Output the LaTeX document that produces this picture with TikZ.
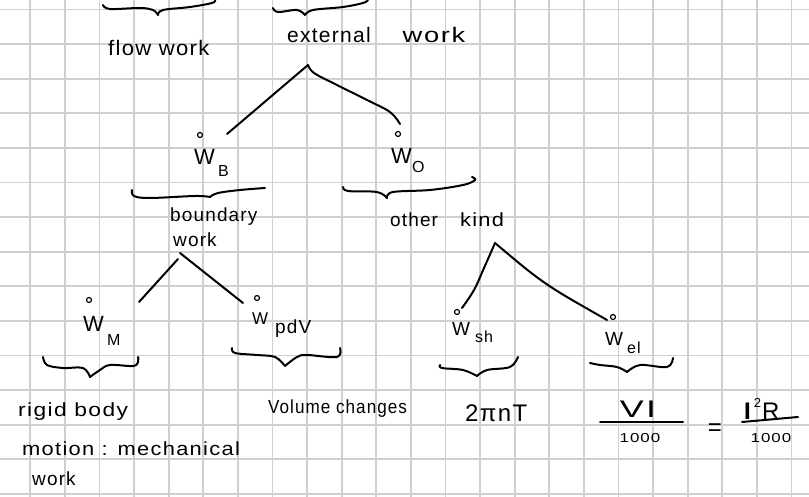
\documentclass[tikz,border=0pt]{standalone}
\usepackage{fontspec}
\setmainfont{Liberation Sans}[LetterSpace=6]
\definecolor{gridgray}{HTML}{D0D0D0}
% font sizes for the hand-lettered notes
\newcommand\fsText{\fontsize{21}{24}\selectfont}
\newcommand\fsMid{\fontsize{19}{22}\selectfont}
\newcommand\fsW{\fontsize{22}{24}\selectfont}
\newcommand\fsSub{\fontsize{16}{18}\selectfont}
\newcommand\fsBig{\fontsize{24}{28}\selectfont}
\newcommand\fsSmall{\fontsize{13}{15}\selectfont}
\newcommand\widen[2]{\scalebox{#1}[1]{#2}}
\begin{document}
\begin{tikzpicture}[x=1pt,y=-1pt,
  gridline/.style={draw=gridgray, line width=1.7pt},
  ink/.style={line width=2pt, line cap=round, line join=round},
  hand/.style={inner sep=0pt, anchor=base west, text=black},
  centred/.style={inner sep=0pt, anchor=center, text=black},
  dotmark/.style={circle, draw, line width=1.2pt, inner sep=0pt, minimum size=5pt}]
\useasboundingbox (0,0) rectangle (809,497);
\fill[white] (0,0) rectangle (809,497);

% squared paper
\foreach \i in {0,...,22} \draw[gridline] ({30.3+34.6*\i},0) -- ({30.3+34.6*\i},497);
\foreach \j in {0,...,14} \draw[gridline] (0,{9.5+34.6*\j}) -- (809,{9.5+34.6*\j});

% top braces
\draw[ink] plot[smooth, tension=0.6] coordinates {(103,5) (110,9) (140,8) (153,10) (158,15)};
\draw[ink] plot[smooth, tension=0.6] coordinates {(158,15) (163,10) (190,7) (212,3) (215,0)};
\draw[ink] plot[smooth, tension=0.6] coordinates {(273,8) (278,12) (297,10) (305,15)};
\draw[ink] plot[smooth, tension=0.6] coordinates {(305,15) (313,10) (343,7) (363,3) (368,0)};

% top labels
\node[hand] (flow) at (108,56) {\fsText\widen{1.05}{flow work}};
\node[hand] (ext) at (287,43) {\fsText external\hspace{32pt}\widen{1.3}{work}};

% boundary work and other kind
\node[hand] (wb) at (194,165) {\fsW W};
\node[hand] (wbsub) at (218,177) {\fsSub B};
\node[dotmark] (wbdot) at (200,135) {};
\node[hand] (wo) at (391,164) {\fsW W};
\node[hand] (wosub) at (412,173) {\fsSub O};
\node[dotmark] (wodot) at (398,134) {};

\coordinate (extfork) at (308,65);
\coordinate (wbend) at (227,134);
\coordinate (woend) at (400,124);
\draw[ink] (extfork) -- (wbend);
\draw[ink] plot[smooth, tension=0.6] coordinates {(extfork) (314,73) (335,84) (367,100) (390,112) (woend)};

\draw[ink] plot[smooth, tension=0.6] coordinates {(132,190) (134,196) (150,198) (195,196) (210,197)};
\draw[ink] plot[smooth, tension=0.6] coordinates {(210,197) (218,193) (240,190) (265,188)};
\draw[ink] plot[smooth, tension=0.6] coordinates {(343,187) (348,191) (377,192) (387,198)};
\draw[ink] plot[smooth, tension=0.6] coordinates {(387,198) (393,192) (430,190) (463,185) (475,180) (472,177)};

\node[hand] (bnd) at (170,222) {\fsMid boundary};
\node[hand] (bndw) at (173,247) {\fsMid work};
\node[hand] (other) at (390,227) {\fsMid other\hspace{22pt}\widen{1.15}{kind}};

% boundary work splits
\coordinate (bwfork) at (180,253);
\coordinate (bwleft) at (178,259);
\coordinate (wmend) at (139,302);
\coordinate (wpend) at (243,303);
\draw[ink] (bwleft) -- (wmend);
\draw[ink] (bwfork) -- (wpend);

\node[hand] (wm) at (83,331) {\fsW W};
\node[hand] (wmsub) at (107,345) {\fsSub M};
\node[dotmark] (wmdot) at (89,300) {};
\node[hand] (wp) at (252,324) {\fontsize{17}{20}\selectfont W};
\node[hand] (wpsub) at (275,333) {\fsMid pdV};
\node[dotmark] (wpdot) at (257,298) {};

% other kind splits
\coordinate (okfork) at (495,243);
\coordinate (wsend) at (462,308);
\coordinate (weend) at (607,320);
\draw[ink] plot[smooth, tension=0.6] coordinates {(okfork) (484,268) (474,290) (wsend)};
\draw[ink] plot[smooth, tension=0.6] coordinates {(okfork) (525,268) (545,283) (567,297) (weend)};

\node[hand] (ws) at (452,335) {\fontsize{19}{20}\selectfont W};
\node[hand] (wssub) at (475,342) {\fsSub sh};
\node[dotmark] (wsdot) at (457,312) {};
\node[hand] (we) at (605,345) {\fontsize{19}{20}\selectfont W};
\node[hand] (wesub) at (627,353) {\fsSub el};
\node[dotmark] (wedot) at (613,317) {};

% lower braces
\draw[ink] plot[smooth, tension=0.6] coordinates {(43,357) (47,365) (63,368) (83,368) (90,377)};
\draw[ink] plot[smooth, tension=0.6] coordinates {(90,377) (100,370) (110,365) (133,366) (138,362) (138,357)};
\draw[ink] plot[smooth, tension=0.6] coordinates {(232,348) (235,353) (257,355) (275,357) (285,366)};
\draw[ink] plot[smooth, tension=0.6] coordinates {(285,366) (297,357) (307,355) (337,357) (340,348)};
\draw[ink] plot[smooth, tension=0.6] coordinates {(440,365) (442,368) (463,370) (477,376)};
\draw[ink] plot[smooth, tension=0.6] coordinates {(477,376) (487,370) (510,367) (518,357)};
\draw[ink] plot[smooth, tension=0.6] coordinates {(590,363) (600,365) (617,367) (627,372)};
\draw[ink] plot[smooth, tension=0.6] coordinates {(627,372) (640,365) (667,367) (673,358)};

% descriptions
\node[hand] (rigid) at (18,416) {\fsMid\widen{1.2}{rigid body}};
\node[hand] (motion) at (22,455) {\fsMid\widen{1.15}{motion : mechanical}};
\node[hand] (mwork) at (32,485) {\fsMid work};
\node[hand] (vol) at (268,413) {\fsMid\widen{0.9}{Volume changes}};
\node[hand] (shaft) at (465,421) {\fsBig 2πnT};

% electrical work formula
\node[centred] (vi) at (638,409) {\fsBig\widen{1.5}{VI}};
\draw[ink] (600,422) -- (683,422);
\node[centred] (vid) at (640,438) {\fsSmall\widen{1.3}{1000}};
\node[centred] (eq) at (715,430) {\fsBig =};
\node[hand] (isq) at (742,419) {\fsBig\widen{1.6}{I}\hspace{1pt}\raisebox{12pt}{\fsSmall 2}\hspace{1pt}R};
\draw[ink] (742,422) -- (798,417);
\node[centred] (isqd) at (771,438) {\fsSmall\widen{1.3}{1000}};
\end{tikzpicture}
\end{document}
